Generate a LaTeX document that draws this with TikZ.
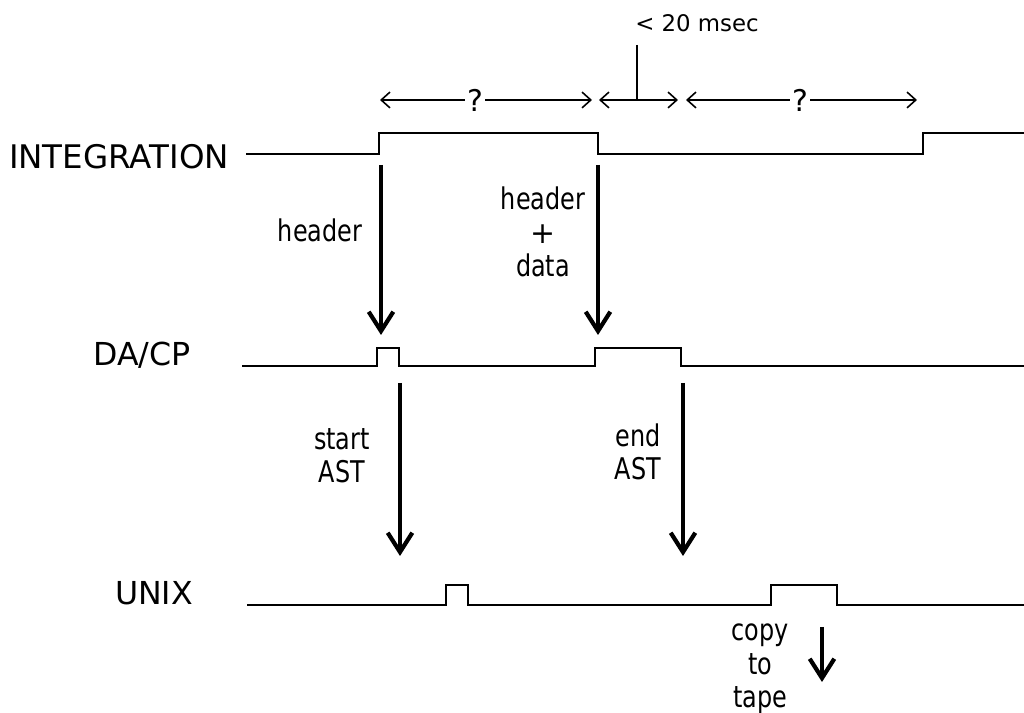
\documentclass[tikz,border=0pt]{standalone}
\usepackage{fontspec}
\setmainfont{DejaVu Sans}
\usetikzlibrary{arrows.meta}
\newcommand{\nrw}[1]{\scalebox{0.8}[1]{#1}}
\begin{document}
\begin{tikzpicture}[x=0.2mm,y=-0.2mm,
  every node/.style={font=\fontsize{17}{19}\selectfont,inner sep=1pt,align=center},
  sig/.style={line width=1.3pt},
  bigarrow/.style={line width=2.4pt,-{Straight Barb[length=11pt,width=14pt,line width=2.4pt]}},
  dimline/.style={line width=0.9pt},
  dimtip/.tip={Straight Barb[length=5pt,width=9pt]}]
\useasboundingbox (0,0) rectangle (1024,713);
% signal names
\node[font=\fontsize{18.5}{20}\selectfont] (integ) at (119,157) {INTEGRATION};
\node[font=\fontsize{18}{20}\selectfont] (dacp) at (142,355) {DA/CP};
\node[font=\fontsize{18}{20}\selectfont] (unix) at (154,593) {UNIX};
% waveforms
\draw[sig] (246,154) -- (379,154) -- (379,133) -- (598,133) -- (598,154) -- (923,154) -- (923,133) -- (1024,133);
\draw[sig] (242,366) -- (377,366) -- (377,348) -- (399,348) -- (399,366) -- (595,366) -- (595,348) -- (681,348) -- (681,366) -- (1024,366);
\draw[sig] (247,605) -- (446,605) -- (446,585) -- (468,585) -- (468,605) -- (771,605) -- (771,585) -- (837,585) -- (837,605) -- (1024,605);
% timing intervals
\coordinate (d1l) at (380,100); \coordinate (d1r) at (592,100);
\coordinate (d2l) at (599,100); \coordinate (d2r) at (678,100);
\coordinate (d3l) at (686,100); \coordinate (d3r) at (917,100);
\node (q1) at (475,100) {?};
\node (q2) at (800,100) {?};
\draw[dimline,dimtip-] (d1l) -- (q1);
\draw[dimline,-dimtip] (q1) -- (d1r);
\draw[dimline,dimtip-dimtip] (d2l) -- (d2r);
\draw[dimline,dimtip-] (d3l) -- (q2);
\draw[dimline,-dimtip] (q2) -- (d3r);
\coordinate (tickbot) at (637,100);
\node[font=\fontsize{13}{15}\selectfont] (msec) at (697,23) {< 20 msec};
\draw[dimline] (637,45) coordinate (ticktop) -- (tickbot);
% messages
\coordinate (h1a) at (381,165); \coordinate (h1b) at (381,335);
\coordinate (h2a) at (598,165); \coordinate (h2b) at (598,335);
\coordinate (s1a) at (400,383); \coordinate (s1b) at (400,556);
\coordinate (e1a) at (683,383); \coordinate (e1b) at (683,556);
\coordinate (c1a) at (822,627); \coordinate (c1b) at (822,682);
\draw[bigarrow] (h1a) -- (h1b);
\draw[bigarrow] (h2a) -- (h2b);
\draw[bigarrow] (s1a) -- (s1b);
\draw[bigarrow] (e1a) -- (e1b);
\draw[bigarrow] (c1a) -- (c1b);
\node (hdr) at (320,230) {\nrw{header}};
\node (hdrdata) at (543,232) {\nrw{header}\\+\\\nrw{data}};
\node (start) at (342,456) {\nrw{start}\\\nrw{AST}};
\node (end) at (638,452) {\nrw{end}\\\nrw{AST}};
\node (copy) at (760,669) {\nrw{copy}\\\nrw{to}\\\nrw{tape}};
\end{tikzpicture}
\end{document}
